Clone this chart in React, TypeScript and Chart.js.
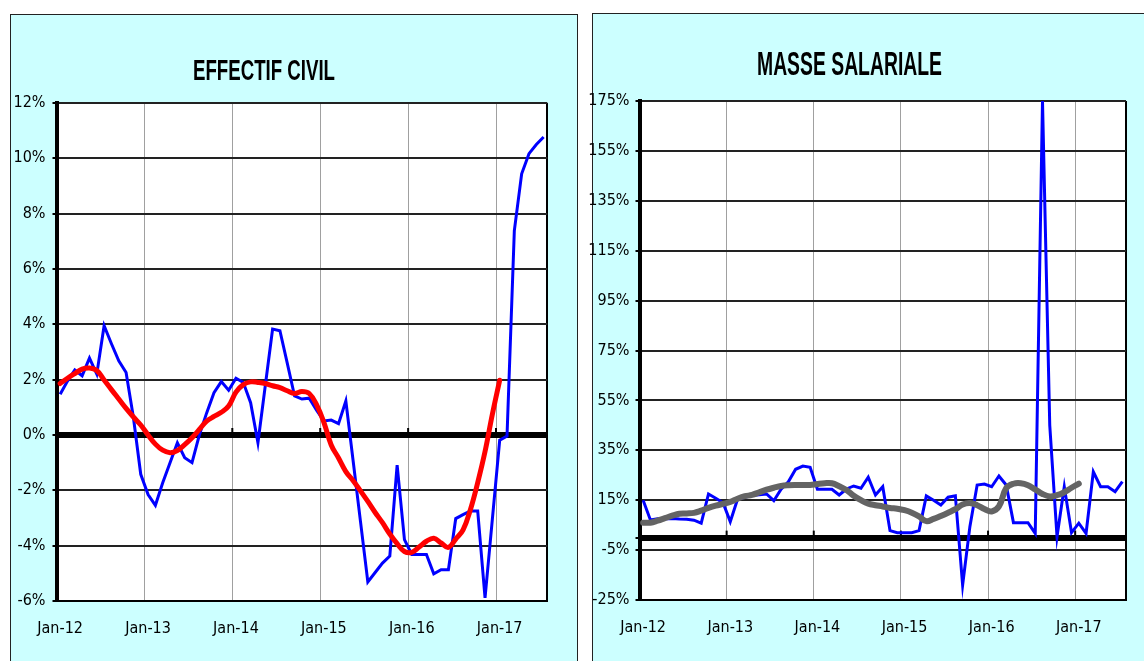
import React, { useEffect, useLayoutEffect, useRef } from "react";
import { Chart, registerables } from "chart.js";

Chart.register(...registerables);

// ---------- DATA ----------
// Monthly observations Jan-12 .. Jul-17 (67 months); x = month index
const MONTH_COUNT = 67;
const yearLabels = ["Jan-12", "Jan-13", "Jan-14", "Jan-15", "Jan-16", "Jan-17"];

// EFFECTIF CIVIL – monthly growth (%)
const effectifMonthly = [
  1.47, 1.95, 2.35, 2.14, 2.78, 2.2, 3.95, 3.3, 2.68, 2.26, 0.63, -1.42,
  -2.15, -2.54, -1.73, -1.0, -0.28, -0.82, -1.0, 0.0, 0.8, 1.53, 1.93, 1.62,
  2.05, 1.9, 1.17, -0.28, 1.78, 3.83, 3.77, 2.6, 1.41, 1.3, 1.33, 0.9,
  0.51, 0.54, 0.41, 1.23, -0.95, -3.13, -5.31, -4.97, -4.63, -4.38, -1.09, -3.78,
  -4.32, -4.32, -4.32, -5.02, -4.87, -4.87, -3.02, -2.88, -2.75, -2.75, -5.89, -3.04,
  -0.19, -0.04, 7.39, 9.44, 10.17, 10.5, 10.77,
];
// EFFECTIF CIVIL – smoothed trend (%), Jan-12 .. Jan-17
const effectifTrend = [
  1.86, 2.05, 2.22, 2.38, 2.42, 2.33, 1.99, 1.64, 1.3, 0.96, 0.65, 0.36,
  0.0, -0.33, -0.55, -0.64, -0.56, -0.35, -0.1, 0.2, 0.5, 0.67, 0.82, 1.05,
  1.55, 1.82, 1.92, 1.9, 1.86, 1.78, 1.71, 1.6, 1.5, 1.57, 1.5, 1.1,
  0.46, -0.36, -0.83, -1.32, -1.65, -2.02, -2.4, -2.8, -3.17, -3.58, -3.93, -4.21,
  -4.24, -4.05, -3.84, -3.73, -3.9, -4.06, -3.76, -3.43, -2.7, -1.72, -0.6, 0.75,
  1.98,
];

// MASSE SALARIALE – monthly growth (%)
const masseMonthly = [
  15, 7.1, 7.6, 7.6, 7.7, 7.5, 7.4, 7.0, 5.8, 17.5, 15.8, 14.0,
  6.4, 15.4, 16.2, 16.9, 17.2, 17.5, 14.8, 19.4, 22.4, 27.4, 28.7, 28.2,
  19.4, 19.4, 19.4, 17.1, 19.5, 20.7, 19.8, 24.2, 17.1, 20.4, 2.8, 2.0,
  2.0, 2.0, 2.8, 16.7, 15.0, 13.1, 16.2, 16.8, -19.0, 4.4, 21.1, 21.5,
  20.4, 24.7, 21.1, 6.0, 6.0, 6.0, 1.7, 175, 45, 0.4, 20.4, 2.0,
  5.8, 1.7, 26.4, 20.4, 20.4, 18.4, 22.4,
];
// MASSE SALARIALE – smoothed trend (%), Jan-12 .. Jan-17
const masseTrend = [
  6.0, 6.0, 6.8, 7.8, 8.8, 9.6, 9.7, 9.9, 10.8, 11.9, 12.8, 13.5,
  14.3, 15.6, 16.6, 17.1, 18.2, 19.2, 20.0, 20.7, 21.0, 21.1, 21.1, 21.1,
  21.5, 21.8, 21.8, 20.6, 19.1, 16.8, 15.0, 13.6, 13.0, 12.5, 11.9, 11.6,
  11.0, 10.0, 8.5, 6.6, 7.5, 8.7, 10.0, 11.4, 13.3, 13.9, 13.0, 11.5,
  10.5, 12.5, 19.8, 21.6, 21.8, 21.0, 19.3, 17.5, 16.5, 17.0, 18.2, 20.0,
  21.6,
];

const effectifYTicks = [-6, -4, -2, 0, 2, 4, 6, 8, 10, 12];
const masseYTicks = [-25, -5, 0, 15, 35, 55, 75, 95, 115, 135, 155, 175];

// ---------- STYLE ----------
const FONT = "'Liberation Sans Narrow', 'Arial Narrow', 'DejaVu Sans Condensed', sans-serif";
const TITLE_FONT = "'Liberation Sans', Arial, sans-serif";
const CYAN = "#CCFFFF";

const toPoints = (vals: number[]) => vals.map((v, i) => ({ x: i, y: v }));

const plotBg = {
  id: "plotBg",
  beforeDraw(chart: any) {
    const { ctx, chartArea: a } = chart;
    ctx.save();
    ctx.fillStyle = "#ffffff";
    ctx.fillRect(a.left, a.top, a.right - a.left, a.bottom - a.top);
    ctx.restore();
  },
};

const zeroTicks = {
  id: "zeroTicks",
  beforeDatasetsDraw(chart: any) {
    const { ctx } = chart;
    const x = chart.scales.x;
    const y = chart.scales.y;
    const y0 = y.getPixelForValue(0);
    ctx.save();
    ctx.strokeStyle = "#000";
    ctx.lineWidth = 2;
    x.ticks.forEach((t: any, i: number) => {
      if (i === 0 || i === x.ticks.length - 1) return;
      const px = x.getPixelForValue(t.value);
      ctx.beginPath();
      ctx.moveTo(px, y0 - 7);
      ctx.lineTo(px, y0);
      ctx.stroke();
    });
    ctx.restore();
  },
};

type Area = { left: number; top: number; right: number; bottom: number };

function buildConfig(opts: {
  W: number;
  H: number;
  area: Area;
  yTicks: number[];
  hideZeroLabel: boolean;
  datasets: any[];
  yPad: number;
}) {
  const { W, H, area, yTicks, hideZeroLabel, datasets, yPad } = opts;
  const xTickValues = [...yearLabels.map((_, k) => k * 12 - 0.5), MONTH_COUNT - 0.5];
  const xTickLabels = [...yearLabels, ""];
  const lastX = xTickValues.length - 1;
  return {
    type: "line",
    data: { datasets },
    options: {
      animation: false,
      responsive: false,
      devicePixelRatio: 1,
      layout: { padding: { left: 0, top: area.top, right: W - area.right, bottom: 0 } },
      plugins: { legend: { display: false }, tooltip: { enabled: false }, title: { display: false } },
      elements: { point: { radius: 0, hoverRadius: 0 } },
      scales: {
        x: {
          type: "linear",
          min: -0.5,
          max: MONTH_COUNT - 0.5,
          afterBuildTicks: (s: any) => {
            s.ticks = xTickValues.map((v) => ({ value: v }));
          },
          afterFit: (s: any) => {
            s.height = H - area.bottom;
          },
          ticks: {
            autoSkip: false,
            maxRotation: 0,
            minRotation: 0,
            padding: 18,
            labelOffset: 3.66,
            color: "#000",
            font: { family: FONT, size: 16 },
            callback: (_v: any, i: number) => xTickLabels[i] ?? "",
          },
          grid: {
            drawTicks: false,
            color: (c: any) => (c.index === lastX ? "#000" : "#a0a0a0"),
            lineWidth: (c: any) => (c.index === lastX ? 2 : 1),
          },
          border: { display: true, color: "#000", width: 2 },
        },
        y: {
          type: "linear",
          min: yTicks[0],
          max: yTicks[yTicks.length - 1],
          afterBuildTicks: (s: any) => {
            s.ticks = yTicks.map((v) => ({ value: v }));
          },
          afterFit: (s: any) => {
            s.width = area.left;
          },
          ticks: {
            autoSkip: false,
            padding: yPad,
            color: "#000",
            font: { family: FONT, size: 16 },
            callback: (v: any) => (hideZeroLabel && v === 0 ? "" : v + "%"),
          },
          grid: {
            drawTicks: true,
            tickLength: 4,
            tickWidth: 2,
            tickColor: "#000",
            color: (c: any) => (c.tick && c.tick.value === 0 ? "#000" : "#222"),
            lineWidth: (c: any) => (c.tick && c.tick.value === 0 ? 6 : 2),
          },
          border: { display: true, color: "#000", width: 4 },
        },
      },
    },
    plugins: [plotBg, zeroTicks],
  };
}

function FitTitle(props: { text: string; cx: number; cy: number; size: number; width: number }) {
  const ref = useRef<HTMLDivElement>(null);
  useLayoutEffect(() => {
    const el = ref.current;
    if (!el) return;
    const w = el.getBoundingClientRect().width;
    const s = props.width / w;
    el.style.transform = `scaleX(${s})`;
    el.style.left = `${props.cx - props.width / 2}px`;
  }, []);
  return (
    <div
      ref={ref}
      style={{
        position: "absolute",
        left: props.cx,
        top: props.cy - 0.49 * props.size,
        fontFamily: TITLE_FONT,
        fontWeight: "bold",
        fontSize: props.size,
        lineHeight: `${props.size}px`,
        whiteSpace: "nowrap",
        transformOrigin: "0 0",
        color: "#000",
      }}
    >
      {props.text}
    </div>
  );
}

export default function App() {
  const leftRef = useRef<HTMLCanvasElement>(null);
  const rightRef = useRef<HTMLCanvasElement>(null);

  useEffect(() => {
    const left = new Chart(
      leftRef.current as HTMLCanvasElement,
      buildConfig({
        W: 565,
        H: 580,
        area: { left: 45.5, top: 23, right: 536.3, bottom: 521 },
        yTicks: effectifYTicks,
        hideZeroLabel: false,
        yPad: 7,
        datasets: [
          {
            data: toPoints(effectifTrend),
            borderColor: "#FF0000",
            borderWidth: 5,
            tension: 0.4,
            borderCapStyle: "round",
            borderJoinStyle: "round",
          },
          {
            data: toPoints(effectifMonthly),
            borderColor: "#0000FF",
            borderWidth: 3,
            tension: 0,
          },
        ],
      }) as any
    );
    const right = new Chart(
      rightRef.current as HTMLCanvasElement,
      buildConfig({
        W: 558,
        H: 580,
        area: { left: 53.5, top: 21, right: 543.5, bottom: 520 },
        yTicks: masseYTicks,
        hideZeroLabel: true,
        yPad: 6,
        datasets: [
          {
            data: toPoints(masseTrend),
            borderColor: "#646464",
            borderWidth: 6,
            tension: 0.4,
            borderCapStyle: "round",
            borderJoinStyle: "round",
          },
          {
            data: toPoints(masseMonthly),
            borderColor: "#0000FF",
            borderWidth: 3,
            tension: 0,
          },
        ],
      }) as any
    );
    return () => {
      left.destroy();
      right.destroy();
    };
  }, []);

  return (
    <div
      style={{
        position: "fixed",
        left: 0,
        top: 0,
        width: 1144,
        height: 661,
        overflow: "hidden",
        background: "#fff",
      }}
    >
      <div
        style={{
          position: "absolute",
          left: 10,
          top: 14,
          width: 568,
          height: 700,
          boxSizing: "border-box",
          border: "1px solid #222",
          background: CYAN,
        }}
      />
      <div
        style={{
          position: "absolute",
          left: 592,
          top: 13,
          width: 600,
          height: 700,
          boxSizing: "border-box",
          border: "1px solid #222",
          background: CYAN,
        }}
      />
      <canvas
        ref={leftRef}
        width={565}
        height={580}
        style={{ position: "absolute", left: 11, top: 80, width: 565, height: 580 }}
      />
      <canvas
        ref={rightRef}
        width={558}
        height={580}
        style={{ position: "absolute", left: 586, top: 80, width: 558, height: 580 }}
      />
      <FitTitle text="EFFECTIF CIVIL" cx={264} cy={70} size={29} width={142} />
      <FitTitle text="MASSE SALARIALE" cx={849} cy={63} size={34} width={185} />
    </div>
  );
}
